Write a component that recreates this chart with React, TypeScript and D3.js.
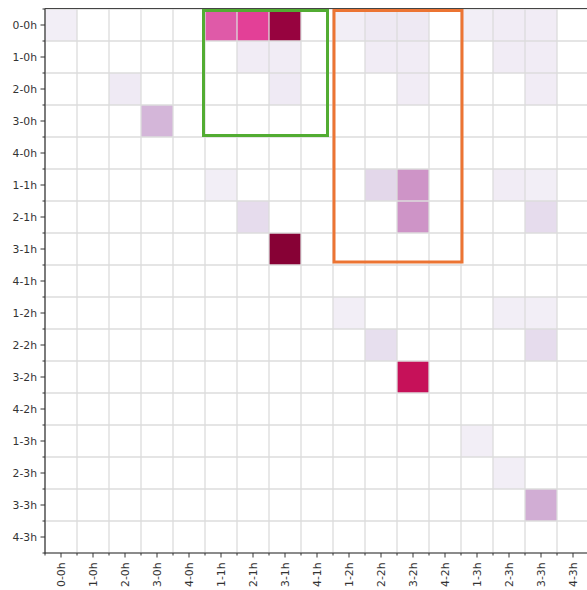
import React from 'react';
import * as d3 from 'd3';

const labels = [
  '0-0h', '1-0h', '2-0h', '3-0h', '4-0h',
  '1-1h', '2-1h', '3-1h', '4-1h',
  '1-2h', '2-2h', '3-2h', '4-2h',
  '1-3h', '2-3h', '3-3h', '4-3h',
];

// non-zero cells: [row label, column label, value]
const cells: [string, string, number][] = [
  ['0-0h', '0-0h', 0.04],
  ['0-0h', '1-1h', 0.52],
  ['0-0h', '2-1h', 0.58],
  ['0-0h', '3-1h', 0.88],
  ['0-0h', '1-2h', 0.04],
  ['0-0h', '2-2h', 0.07],
  ['0-0h', '3-2h', 0.07],
  ['0-0h', '1-3h', 0.04],
  ['0-0h', '2-3h', 0.05],
  ['0-0h', '3-3h', 0.05],
  ['1-0h', '2-1h', 0.05],
  ['1-0h', '3-1h', 0.05],
  ['1-0h', '2-2h', 0.05],
  ['1-0h', '3-2h', 0.05],
  ['1-0h', '2-3h', 0.05],
  ['1-0h', '3-3h', 0.05],
  ['2-0h', '2-0h', 0.06],
  ['2-0h', '3-1h', 0.06],
  ['2-0h', '3-2h', 0.05],
  ['2-0h', '3-3h', 0.05],
  ['3-0h', '3-0h', 0.26],
  ['1-1h', '1-1h', 0.04],
  ['1-1h', '2-2h', 0.15],
  ['1-1h', '3-2h', 0.37],
  ['1-1h', '2-3h', 0.05],
  ['1-1h', '3-3h', 0.04],
  ['2-1h', '2-1h', 0.13],
  ['2-1h', '3-2h', 0.37],
  ['2-1h', '3-3h', 0.13],
  ['3-1h', '3-1h', 0.92],
  ['1-2h', '1-2h', 0.04],
  ['1-2h', '2-3h', 0.04],
  ['1-2h', '3-3h', 0.04],
  ['2-2h', '2-2h', 0.12],
  ['2-2h', '3-3h', 0.13],
  ['3-2h', '3-2h', 0.76],
  ['1-3h', '1-3h', 0.04],
  ['2-3h', '2-3h', 0.04],
  ['3-3h', '3-3h', 0.29],
];

// highlighted blocks: [first col, last col, first row, last row, colour]
const boxes: [string, string, string, string, string][] = [
  ['1-1h', '4-1h', '0-0h', '3-0h', '#52ac32'],
  ['1-2h', '4-2h', '0-0h', '3-1h', '#ec7433'],
];

const App = () => {
  const width = 587;
  const height = 590;
  const left = 45;
  const top = 9;
  const size = 32 * labels.length;

  const x = d3.scaleBand().domain(labels).range([left, left + size]);
  const y = d3.scaleBand().domain(labels).range([top, top + size]);
  const color = d3.scaleSequential(d3.interpolatePuRd).domain([0, 1]);
  const bw = x.bandwidth();
  const bottom = top + size;
  const font = 'DejaVu Sans, sans-serif';
  const bounds = d3.range(labels.length + 1).map((i) => i * bw);
  // the boxes were drawn by hand, so they sit a little off the grid
  const nudge = [
    { l: -1.5, r: -5.5, t: 1.5, b: -1.5 },
    { l: 1, r: 1, t: 1.5, b: -3 },
  ];

  return (
    <svg width={width} height={height} style={{ position: 'absolute', left: 0, top: 0 }}>
      <rect x={0} y={0} width={width} height={height} fill="#fff" />
      {cells.map(([r, c, v], i) => (
        <rect key={i} x={x(c)} y={y(r)} width={bw} height={bw} fill={color(v)} />
      ))}
      {/* grid */}
      {bounds.map((b, i) => (
        <g key={i}>
          <line x1={left + b} x2={left + b} y1={top} y2={bottom} stroke="#dcdcdc" strokeWidth={1.3} />
          <line x1={left} x2={left + size} y1={top + b} y2={top + b} stroke="#dcdcdc" strokeWidth={1.3} />
        </g>
      ))}
      {/* spines */}
      <line x1={left} x2={left} y1={top - 0.5} y2={bottom + 0.5} stroke="#333" strokeWidth={1.2} />
      <line x1={left} x2={left + size} y1={bottom} y2={bottom} stroke="#333" strokeWidth={1.2} />
      <line x1={left} x2={left + size} y1={top - 0.5} y2={top - 0.5} stroke="#444" strokeWidth={1} />
      {/* minor ticks */}
      {bounds.map((b, i) => (
        <g key={'m' + i} stroke="#333" strokeWidth={1}>
          <line x1={left - 2.5} x2={left} y1={top + b} y2={top + b} />
          <line x1={left + b} x2={left + b} y1={bottom} y2={bottom + 2.5} />
        </g>
      ))}
      {/* y axis */}
      {labels.map((l) => (
        <g key={'y' + l} transform={`translate(0,${y(l)! + bw / 2})`}>
          <line x1={left - 4.5} x2={left} stroke="#333" strokeWidth={1} />
          <text x={left - 8} dy="0.35em" textAnchor="end" fontSize={10.8} fontFamily={font} fill="#333">
            {l}
          </text>
        </g>
      ))}
      {/* x axis */}
      {labels.map((l) => (
        <g key={'x' + l} transform={`translate(${x(l)! + bw / 2},${bottom})`}>
          <line y1={0} y2={4.5} stroke="#333" strokeWidth={1} />
          <text transform="translate(0,9.5) rotate(-90)" dy="0.35em" textAnchor="end" fontSize={10.8} fontFamily={font} fill="#333">
            {l}
          </text>
        </g>
      ))}
      {boxes.map(([c0, c1, r0, r1, stroke], i) => {
        const n = nudge[i];
        const x0 = x(c0)! + n.l;
        const x1 = x(c1)! + bw + n.r;
        const y0 = y(r0)! + n.t;
        const y1 = y(r1)! + bw + n.b;
        return (
          <rect key={'b' + i} x={x0} y={y0} width={x1 - x0} height={y1 - y0} fill="none" stroke={stroke} strokeWidth={3} />
        );
      })}
    </svg>
  );
};

export default App;
